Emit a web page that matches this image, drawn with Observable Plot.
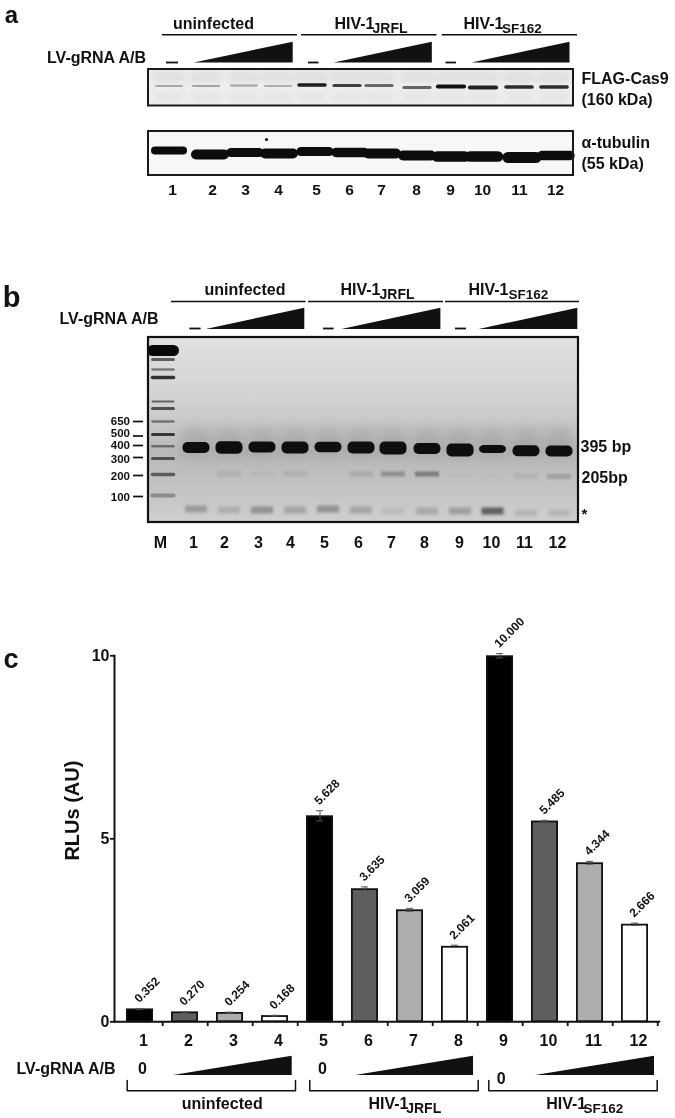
<!DOCTYPE html>
<html><head><meta charset="utf-8">
<style>
html,body{margin:0;padding:0;background:#fff;width:675px;height:1118px;overflow:hidden}
svg{display:block}
#figure{filter:blur(0.3px)}
</style>
<script src="https://cdn.jsdelivr.net/npm/d3@7"></script>
<script src="https://cdn.jsdelivr.net/npm/@observablehq/plot@0.6"></script>
</head><body><div id="figure"></div>
<script>
const FONT = "'Liberation Sans', Arial, sans-serif";

// ---- panel c values
const lanes = [1,2,3,4,5,6,7,8,9,10,11,12];
const rlus = [0.352,0.270,0.254,0.168,5.628,3.635,3.059,2.061,10.000,5.485,4.344,2.666];
const rluLabels = ["0.352","0.270","0.254","0.168","5.628","3.635","3.059","2.061","10.000","5.485","4.344","2.666"];
const rluErr = [0.01,0.01,0.01,0.01,0.14,0.05,0.04,0.03,0.06,0.02,0.04,0.03];
const barFills = ["#000000","#5e5e5e","#adadad","#ffffff"];

// ---- panel a readings (per lane)
const flagX = [169,206,244,278,312,347,379,417,451,483,519,554];
const flagY = [85.5,85.5,85,85.5,84.5,85,85,87,86,87,86.5,86.5];
const flagI = [0.3,0.33,0.33,0.28,0.95,0.8,0.6,0.62,1,0.92,0.88,0.88];
const flagT = [2,2,2,2,3.5,3.2,3.2,3.2,4.2,4.2,3.6,3.6];
const tubX = [169,210,245,279,315,350,382,417,451,484,522,556];
const tubY = [150,154,152,153,151,152,153,155,156,156,157,155];
const tubT = [8,10,9,10,9,9.5,10,10,10.5,10.5,11,9.5];
const aLaneX = [172,212,245,278,316,349,381,416,450,482,519,555];

// ---- panel b readings (per lane)
const gelX = [196,229,262,295,328,361,393,427,460,492.5,526,559];
const band395Y = [447.5,447.5,447,447.5,447,447.5,448,448.5,450,449,450.7,451];
const band395T = [11,12.5,11,12,10.5,12,13,11,13,8,11,11];
const band205Y = [474,474,474,474,474,474,474,474,476,476,476,476.5];
const band205I = [0.0,0.09,0.04,0.09,0.0,0.11,0.28,0.38,0.02,0.02,0.07,0.18];
const primerY = [509,510,510,510,509,510,511,511,511,511,513,513];
const primerI = [0.26,0.15,0.3,0.2,0.3,0.2,0.08,0.18,0.24,0.58,0.11,0.11];
const bLaneX = [193,224,258,290,324,358,391,424,459,491,524,557];
const ladderY = [350,359,369,377,401,408,421,434,445.7,458,474,495];
const ladderT = [11,3,2.5,3.5,2,3,2.5,3,2.5,3,3.5,4];
const ladderI = [1,0.6,0.45,0.8,0.55,0.65,0.45,0.75,0.45,0.6,0.55,0.3];
const sizeLabels = ["650","500","400","300","200","100"];
const sizeLabelY = [421,433,445,459,476,497];
const sizeTickY = [421,435.5,445,457,475,496];

// ---- shared annotation tables
const groupNames = ["uninfected","HIV-1","HIV-1"];
const groupSubs = ["JRFL","SF162"];
const doseLabel = "LV-gRNA A/B";

const text = (data, o) => Plot.text(data, {fontWeight:"bold", fontSize:16, fill:"#111", ...o});
const wedge = (x0,x1,yb,yt) => Plot.area([{x:x0,t:yb},{x:x1,t:yt}], {x1:"x", y1:()=>yb, y2:"t", fill:"#111"});
const seg = (x1,x2,y,w=1.6,stroke="#111") => Plot.ruleY([y], {x1:()=>x1, x2:()=>x2, y:d=>d, stroke, strokeWidth:w});

function header(o){
  return [
    text([groupNames[0]], {x:()=>o.nameX[0], y:()=>o.nameY}),
    text([groupNames[1]], {x:()=>o.nameX[1], y:()=>o.nameY, textAnchor:"start"}),
    text([groupSubs[0]], {x:()=>o.subX[0], y:()=>o.nameY+5, textAnchor:"start", fontSize:14}),
    text([groupNames[2]], {x:()=>o.nameX[2], y:()=>o.nameY, textAnchor:"start"}),
    text([groupSubs[1]], {x:()=>o.subX[1], y:()=>o.nameY+5, textAnchor:"start", fontSize:13.5}),
    ...o.lines.map(([a,b])=>seg(a,b,o.lineY)),
    text([doseLabel], {x:()=>o.doseX, y:()=>o.doseY, textAnchor:"start"}),
    ...o.dashes.map(([a,b])=>seg(a,b,o.dashY,1.8)),
    ...o.wedges.map(([a,b])=>wedge(a,b,o.wedgeB,o.wedgeT))
  ];
}

const gelDefs = () => {
  const defs = d3.create("svg:defs");
  const g = defs.append("linearGradient").attr("id","gelGrad").attr("x1",0).attr("x2",0).attr("y1",0).attr("y2",1);
  [[0,"#e0e0e0"],[0.3,"#d4d4d4"],[0.52,"#c4c4c4"],[0.62,"#b8b8b8"],[0.8,"#c2c2c2"],[1,"#cfcfcf"]]
    .forEach(([o,c])=>g.append("stop").attr("offset",o).attr("stop-color",c));
  return defs.node();
};

const blots = Plot.plot({
  width:675, height:600, margin:0,
  x:{domain:[0,675], range:[0,675], axis:null},
  y:{domain:[0,600], range:[0,600], axis:null},
  style:{fontFamily:FONT, background:"transparent"},
  marks:[
    gelDefs,
    // ---------- panel a
    text(["a"], {x:()=>11, y:()=>15, fontSize:24}),
    header({nameX:[213,334,463], subX:[372,501.5], nameY:23, lines:[[162,297],[301,436.5],[441.7,577]], lineY:34.3,
            doseX:46.5, doseY:57, dashes:[[166,178],[308,318.5],[445.5,456]], dashY:62,
            wedges:[[193.7,292.7],[333.6,431.8],[471.4,569.5]], wedgeB:62.5, wedgeT:41.7}),
    Plot.rect([0], {x1:()=>148, x2:()=>573, y1:()=>69, y2:()=>105.5, fill:"#eeeeee"}),
    Plot.ruleY(flagX, {x1:d=>d-16, x2:d=>d+16, y:()=>76, stroke:"#bbb", strokeWidth:11, strokeOpacity:0.28, imageFilter:"blur(3px)"}),
    Plot.ruleY(flagX, {x1:d=>d-14, x2:d=>d+14, y:()=>97, stroke:"#ccc", strokeWidth:10, strokeOpacity:0.25, imageFilter:"blur(3px)"}),
    Plot.ruleY(flagX, {x1:d=>d-13, x2:d=>d+13, y:(d,i)=>flagY[i], stroke:"#111", strokeWidth:(d,i)=>flagT[i], strokeOpacity:(d,i)=>flagI[i], strokeLinecap:"round", imageFilter:"blur(0.6px)"}),
    Plot.rect([0], {x1:()=>148, x2:()=>573, y1:()=>69, y2:()=>105.5, stroke:"#1a1a1a", strokeWidth:2, fill:"none"}),
    Plot.rect([0], {x1:()=>148, x2:()=>573, y1:()=>131, y2:()=>175, fill:"#f7f7f7"}),
    Plot.ruleY(tubX, {x1:d=>d-14, x2:d=>d+14, y:(d,i)=>tubY[i], stroke:"#0c0c0c", strokeWidth:(d,i)=>tubT[i], strokeLinecap:"round", imageFilter:"blur(0.5px)"}),
    Plot.dot([0], {x:()=>266, y:()=>139, r:1.6, fill:"#111"}),
    Plot.rect([0], {x1:()=>148, x2:()=>573, y1:()=>131, y2:()=>175, stroke:"#1a1a1a", strokeWidth:2, fill:"none"}),
    text(["FLAG-Cas9"], {x:()=>581, y:()=>78, textAnchor:"start"}),
    text(["(160 kDa)"], {x:()=>581, y:()=>99, textAnchor:"start"}),
    text(["α-tubulin"], {x:()=>581, y:()=>142.5, textAnchor:"start"}),
    text(["(55 kDa)"], {x:()=>581, y:()=>163, textAnchor:"start"}),
    text(lanes, {x:(d,i)=>aLaneX[i], y:()=>189.5, fontSize:15.5}),
    // ---------- panel b
    text(["b"], {x:()=>11, y:()=>297.4, fontSize:29}),
    header({nameX:[244.5,340,468], subX:[379,508], nameY:289, lines:[[171,305.6],[308,443],[445,579]], lineY:301,
            doseX:59, doseY:318.5, dashes:[[189.4,200.6],[323,333.6],[455,466]], dashY:328,
            wedges:[[205.8,304.3],[341.4,440.4],[478.7,577.3]], wedgeB:329, wedgeT:307.7}),
    Plot.rect([0], {x1:()=>148, x2:()=>578, y1:()=>337, y2:()=>522, fill:"url(#gelGrad)"}),
    Plot.ruleY(gelX, {x1:d=>d-14, x2:d=>d+14, y:()=>442, stroke:"#7d7d7d", strokeWidth:30, strokeOpacity:0.3, imageFilter:"blur(6px)"}),
    // ladder
    Plot.ruleY(ladderY, {x1:()=>152.5, x2:()=>173.5, y:d=>d, stroke:"#0a0a0a", strokeWidth:(d,i)=>ladderT[i], strokeOpacity:(d,i)=>ladderI[i], strokeLinecap:"round", imageFilter:"blur(0.5px)"}),
    // 395 bp
    Plot.rect(gelX, {x1:d=>d-13.5, x2:d=>d+13.5, y1:(d,i)=>band395Y[i]-band395T[i]/2, y2:(d,i)=>band395Y[i]+band395T[i]/2, fill:"#0e0e0e", rx:5, imageFilter:"blur(0.6px)"}),
    // 205 bp
    Plot.rect(gelX, {x1:d=>d-12, x2:d=>d+12, y1:(d,i)=>band205Y[i]-2.5, y2:(d,i)=>band205Y[i]+2.5, fill:"#111", fillOpacity:(d,i)=>band205I[i], imageFilter:"blur(1.2px)"}),
    // primer band
    Plot.rect(gelX, {x1:d=>d-11, x2:d=>d+11, y1:(d,i)=>primerY[i]-3.5, y2:(d,i)=>primerY[i]+3.5, fill:"#111", fillOpacity:(d,i)=>primerI[i], imageFilter:"blur(1.6px)"}),
    Plot.rect([0], {x1:()=>148, x2:()=>578, y1:()=>337, y2:()=>522, stroke:"#111", strokeWidth:2.2, fill:"none"}),
    text(sizeLabels, {x:()=>129.5, y:(d,i)=>sizeLabelY[i], textAnchor:"end", fontSize:11.5}),
    Plot.ruleY(sizeTickY, {x1:()=>133, x2:()=>143, y:d=>d, stroke:"#111", strokeWidth:1.7}),
    text(["395 bp"], {x:()=>580, y:()=>446, textAnchor:"start"}),
    text(["205bp"], {x:()=>581, y:()=>477, textAnchor:"start"}),
    text(["*"], {x:()=>584, y:()=>514, fontSize:15}),
    text(["M"], {x:()=>160, y:()=>542}),
    text(lanes, {x:(d,i)=>bLaneX[i], y:()=>542})
  ]
});

const bars = Plot.plot({
  width:675, height:450,
  marginLeft:114, marginRight:16.3, marginTop:55.3, marginBottom:28.7,
  x:{type:"band", domain:lanes, paddingInner:0.41, paddingOuter:0.205, align:0.5, axis:null},
  y:{domain:[0,10], axis:null},
  style:{fontFamily:FONT, background:"transparent", overflow:"visible"},
  marks:[
    Plot.barY(lanes, {x:d=>d, y:(d,i)=>rlus[i], fill:(d,i)=>barFills[i%4], stroke:"#111", strokeWidth:1.8, insetTop:0.9, insetLeft:0.9, insetRight:0.9}),
    Plot.ruleX(lanes, {x:d=>d, y1:(d,i)=>rlus[i]-rluErr[i], y2:(d,i)=>rlus[i]+rluErr[i], stroke:"#555", strokeWidth:1}),
    Plot.tickY(lanes, {x:d=>d, y:(d,i)=>rlus[i]+rluErr[i], stroke:"#555", strokeWidth:1, insetLeft:10, insetRight:10}),
    Plot.tickY(lanes, {x:d=>d, y:(d,i)=>rlus[i]-rluErr[i], stroke:"#555", strokeWidth:1, insetLeft:10, insetRight:10}),
    Plot.text(rluLabels, {x:(d,i)=>lanes[i], y:(d,i)=>rlus[i]+rluErr[i], text:d=>d, rotate:-45, textAnchor:"start", dx:-3.5, dy:-8, fontSize:12, fontWeight:"bold", fill:"#111"}),
    Plot.frame({anchor:"left", stroke:"#111", strokeWidth:2}),
    Plot.frame({anchor:"bottom", stroke:"#111", strokeWidth:2}),
    Plot.ruleX(lanes, {x:d=>d, y1:()=>0, y2:()=>-0.13, dx:22.7, stroke:"#111", strokeWidth:1.8}),
    Plot.axisY({ticks:[0,5,10], tickSize:4, tickPadding:1, label:null, fontSize:16, fontWeight:"bold", stroke:"#111", strokeWidth:1.8, fill:"#111"}),
    Plot.axisX(lanes, {tickSize:0, tickPadding:13, dx:3.5, label:null, fontSize:16, fontWeight:"bold", fill:"#111"}),
    Plot.text(["RLUs (AU)"], {frameAnchor:"left", textAnchor:"middle", y:()=>5.77, dx:-42, rotate:-90, fontSize:20, fontWeight:"bold", fill:"#111"}),
    Plot.text(["c"], {frameAnchor:"left", textAnchor:"middle", y:()=>9.89, dx:-103.5, fontSize:27, fontWeight:"bold", fill:"#111"})
  ]
});

const zero = ["0","0","0"];
const foot = Plot.plot({
  width:675, height:68, margin:0,
  x:{domain:[0,675], range:[0,675], axis:null},
  y:{domain:[1050,1118], range:[0,68], axis:null},
  style:{fontFamily:FONT, background:"transparent"},
  marks:[
    text([doseLabel], {x:()=>16, y:()=>1068, textAnchor:"start"}),
    text(zero, {x:(d,i)=>[142,322,500.7][i], y:(d,i)=>[1068,1068,1078.7][i]}),
    wedge(173,291.7,1075,1055.7), wedge(355,473,1075,1055.7), wedge(535,654,1075,1055.7),
    ...[[126.7,295],[309.3,477.7],[488.3,656.7]].map(([a,b])=>Plot.line([[a,1080],[a,1090.3],[b,1090.3],[b,1080]], {stroke:"#111", strokeWidth:1.5})),
    text([groupNames[0]], {x:()=>221.7, y:()=>1103}),
    text([groupNames[1]], {x:()=>368, y:()=>1103, textAnchor:"start"}),
    text([groupSubs[0]], {x:()=>405.7, y:()=>1108, textAnchor:"start", fontSize:14}),
    text([groupNames[2]], {x:()=>545.7, y:()=>1103, textAnchor:"start"}),
    text([groupSubs[1]], {x:()=>583, y:()=>1108, textAnchor:"start", fontSize:13.5})
  ]
});

document.getElementById("figure").append(blots, bars, foot);
</script>
</body></html>
